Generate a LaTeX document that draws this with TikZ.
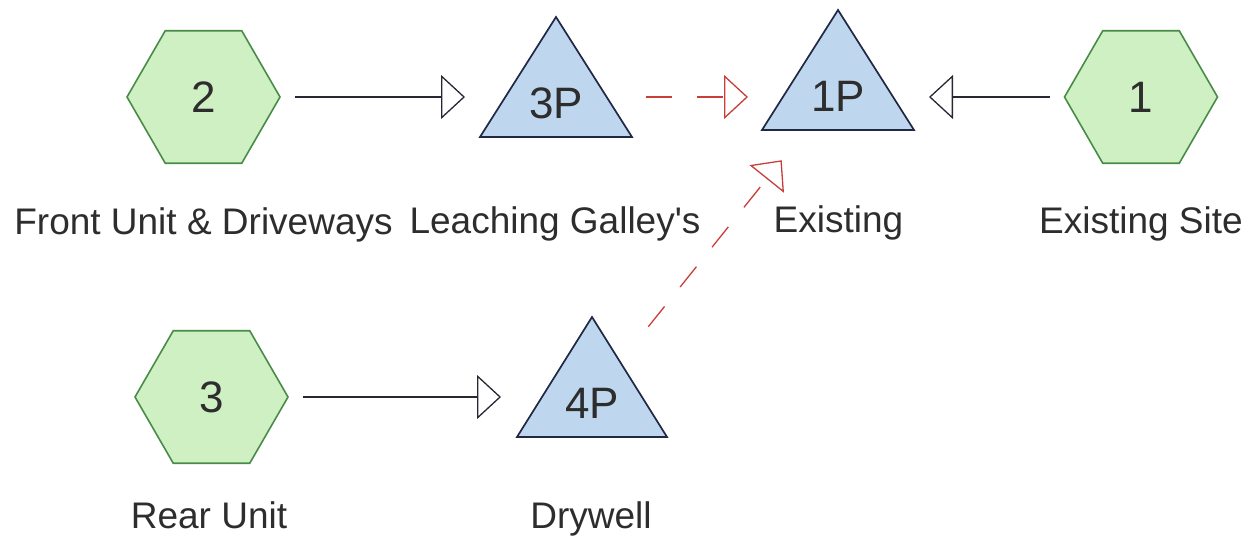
\documentclass[tikz,border=0pt]{standalone}
\usepackage{fontspec}
\setmainfont{Liberation Sans}[Ligatures=TeXOff]
\usetikzlibrary{arrows.meta,shapes.geometric}
\definecolor{hexfill}{RGB}{207,240,195}
\definecolor{hexdraw}{RGB}{72,140,72}
\definecolor{trifill}{RGB}{190,215,238}
\definecolor{tridraw}{RGB}{32,40,68}
\definecolor{flowcol}{RGB}{40,40,52}
\definecolor{redcol}{RGB}{200,62,58}
\definecolor{txtcol}{RGB}{45,45,45}
\begin{document}
\begin{tikzpicture}[x=1pt,y=-1pt,
  hexnode/.style={regular polygon, regular polygon sides=6, minimum size=153pt, inner sep=0pt,
    fill=hexfill, draw=hexdraw, line width=1.6pt, text=txtcol, font=\fontsize{44}{50}\selectfont},
  trishape/.style={fill=trifill, draw=tridraw, line width=1.7pt, line join=miter},
  tritext/.style={font=\fontsize{44}{50}\selectfont, inner sep=0pt, text=txtcol},
  lbl/.style={anchor=base, font=\fontsize{37}{44}\selectfont, inner sep=0pt, text=txtcol},
  flow/.style={draw=flowcol, line width=1.3pt,
    -{Triangle[open, length=24pt, width=44pt, line width=1.3pt]},
    shorten <=91pt, shorten >=91pt},
  dflow/.style={flow, draw=redcol, dash pattern=on 26pt off 25pt, shorten <=90pt, shorten >=90pt}
]
\useasboundingbox (0,0) rectangle (1254,551);

% hexagons
\node[hexnode] (h2) at (203.5,97) {\raisebox{-4pt}{2}};
\node[hexnode] (h1) at (1141,97) {\raisebox{-4pt}{1}};
\node[hexnode] (h3) at (211.5,397) {\raisebox{-4pt}{3}};

% triangle centroids
\coordinate (c3p) at (556,97);
\coordinate (c1p) at (838,90);
\coordinate (c4p) at (592,397);

\draw[trishape, shift={(c3p)}] (0,-80) -- (76,40) -- (-76,40) -- cycle;
\draw[trishape, shift={(c1p)}] (0,-80) -- (76,40) -- (-76,40) -- cycle;
\draw[trishape, shift={(c4p)}] (0,-80) -- (75,40) -- (-75,40) -- cycle;

\node[tritext, yshift=-6pt] (t3p) at (c3p) {3P};
\node[tritext, yshift=-6pt] (t1p) at (c1p) {1P};
\node[tritext, yshift=-6pt] (t4p) at (c4p) {4P};

% labels
\node[lbl] (l2) at (203.5,234) {Front Unit \& Driveways};
\node[lbl] (l3p) at (555,233) {Leaching Galley's};
\node[lbl] (l1p) at (838.5,232) {Existing};
\node[lbl] (l1) at (1141,233) {Existing Site};
\node[lbl] (l3) at (209,528) {Rear Unit};
\node[lbl] (l4p) at (591,528) {Drywell};

% connectors
\draw[flow] (h2.center) -- (c3p);
\draw[dflow] (c3p) -- (c3p -| c1p);
\draw[flow] (h1.center) -- (h1.center -| c1p);
\draw[flow] (h3.center) -- (c4p);
\draw[dflow] (c4p) -- (c1p);
\end{tikzpicture}
\end{document}
